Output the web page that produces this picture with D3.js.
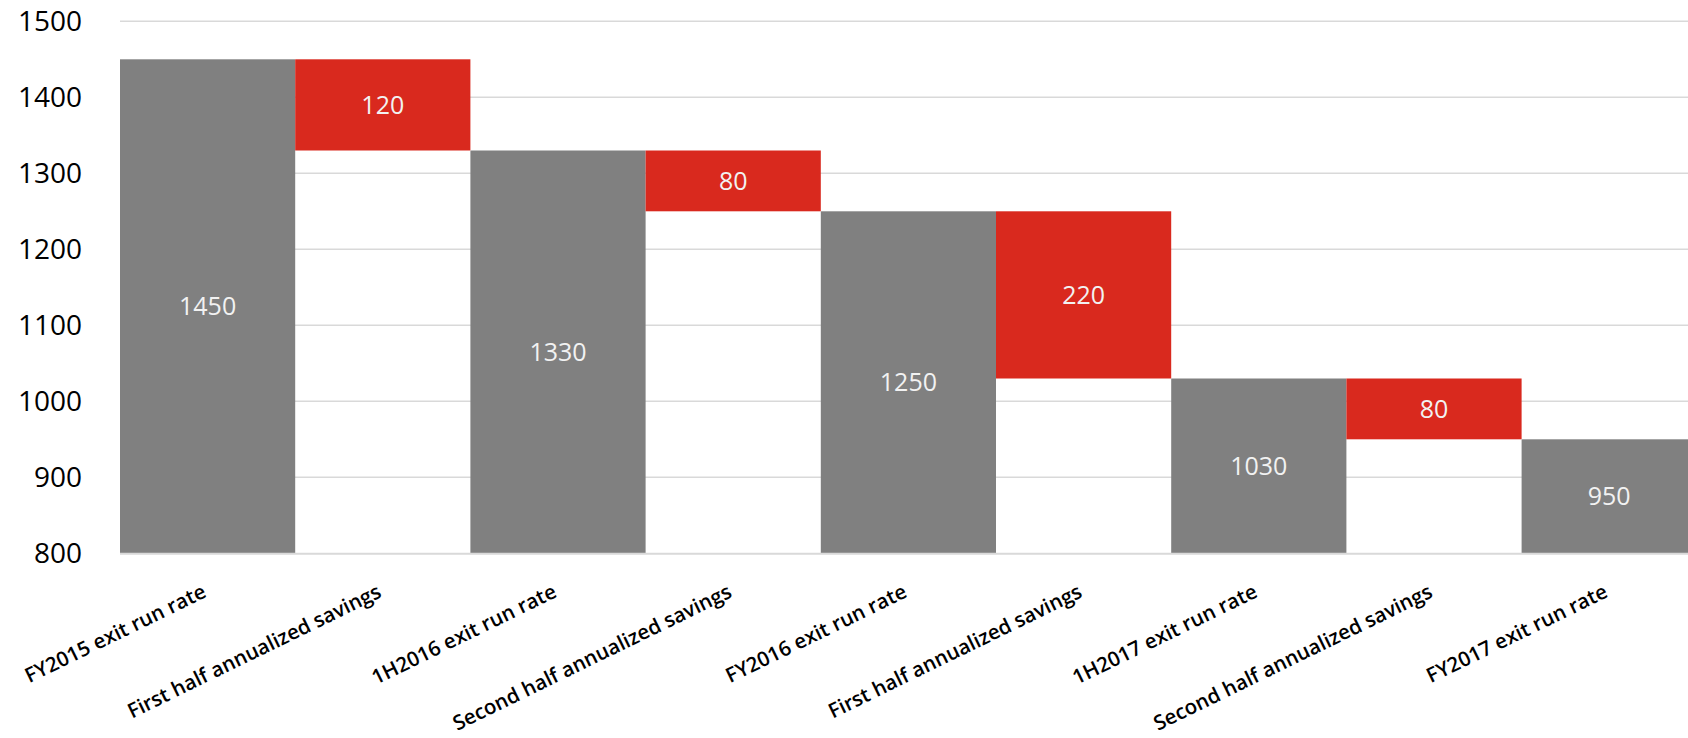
<!DOCTYPE html>
<html>
<head>
<meta charset="utf-8">
<script src="https://cdn.jsdelivr.net/npm/d3@7"></script>
<style>
  html, body { margin: 0; padding: 0; background: #ffffff; overflow: hidden; }
  svg { display: block; }
</style>
</head>
<body>
<svg id="chart" width="1688" height="738"></svg>
<script>
// ---- data ----
const categories = [
  "FY2015 exit run rate",
  "First half annualized savings",
  "1H2016 exit run rate",
  "Second half annualized savings",
  "FY2016 exit run rate",
  "First half annualized savings",
  "1H2017 exit run rate",
  "Second half annualized savings",
  "FY2017 exit run rate"
];
const barTypes = ["total", "saving", "total", "saving", "total", "saving", "total", "saving", "total"];
const barValues = [1450, 120, 1330, 80, 1250, 220, 1030, 80, 950];
const yTicks = [800, 900, 1000, 1100, 1200, 1300, 1400, 1500];
const yDomain = [800, 1500];

// ---- build waterfall segments ----
let running = 0;
const bars = categories.map((c, i) => {
  let lo, hi;
  if (barTypes[i] === "total") { lo = yDomain[0]; hi = barValues[i]; running = barValues[i]; }
  else { hi = running; lo = running - barValues[i]; running = lo; }
  return { key: i, cat: c, type: barTypes[i], value: barValues[i], lo, hi };
});

const svg = d3.select("#chart");
const left = 120, bandW = 175.2;
const x = d3.scaleBand().domain(d3.range(categories.length))
  .range([left, left + bandW * categories.length]).padding(0);
const y = d3.scaleLinear().domain(yDomain).range([553.3, 21.3]);

// gridlines
svg.append("g").selectAll("line").data(yTicks.filter(t => t !== 800)).join("line")
  .attr("x1", left).attr("x2", 1700)
  .attr("y1", d => y(d)).attr("y2", d => y(d))
  .attr("stroke", "#d9d9d9").attr("stroke-width", 1.4);

// bars
svg.append("g").selectAll("rect").data(bars).join("rect")
  .attr("x", d => x(d.key))
  .attr("width", x.bandwidth())
  .attr("y", d => y(d.hi))
  .attr("height", d => y(d.lo) - y(d.hi))
  .attr("fill", d => d.type === "total" ? "#808080" : "#d9291e");

// axis baseline
svg.append("line").attr("x1", left).attr("x2", 1700)
  .attr("y1", y(800) + 0.5).attr("y2", y(800) + 0.5)
  .attr("stroke", "#d9d9d9").attr("stroke-width", 2);

// bar labels
svg.append("g").selectAll("text").data(bars).join("text")
  .attr("x", d => x(d.key) + x.bandwidth() / 2)
  .attr("y", d => (y(d.lo) + y(d.hi)) / 2)
  .attr("dy", "0.36em")
  .attr("text-anchor", "middle")
  .attr("font-family", "'Open Sans', 'Noto Sans', sans-serif")
  .attr("font-size", 25)
  .attr("fill", "#f2f2f2")
  .text(d => d.value);

// y axis labels
const yAxis = d3.axisLeft(y).tickValues(yTicks).tickSize(0).tickPadding(0).tickFormat(d3.format("d"));
const yg = svg.append("g").attr("transform", "translate(82,0)").call(yAxis);
yg.select(".domain").remove();
yg.selectAll("text")
  .attr("font-family", "'Open Sans', 'Noto Sans', sans-serif")
  .attr("font-size", 28)
  .attr("fill", "#000000")
  .attr("dy", "0.32em");

// x axis labels
const xAxis = d3.axisBottom(x).tickSize(0).tickFormat(i => categories[i]);
const xg = svg.append("g").attr("transform", `translate(0,${y(800)})`).call(xAxis);
xg.select(".domain").remove();
xg.selectAll(".tick text")
  .attr("font-family", "'Open Sans', 'Noto Sans', sans-serif")
  .attr("font-size", 20.5)
  .attr("font-weight", 600)
  .attr("fill", "#000000")
  .attr("text-anchor", "end")
  .attr("x", 0).attr("y", 0).attr("dy", 0)
  .attr("transform", "translate(0,43) rotate(-26)");
</script>
</body>
</html>
